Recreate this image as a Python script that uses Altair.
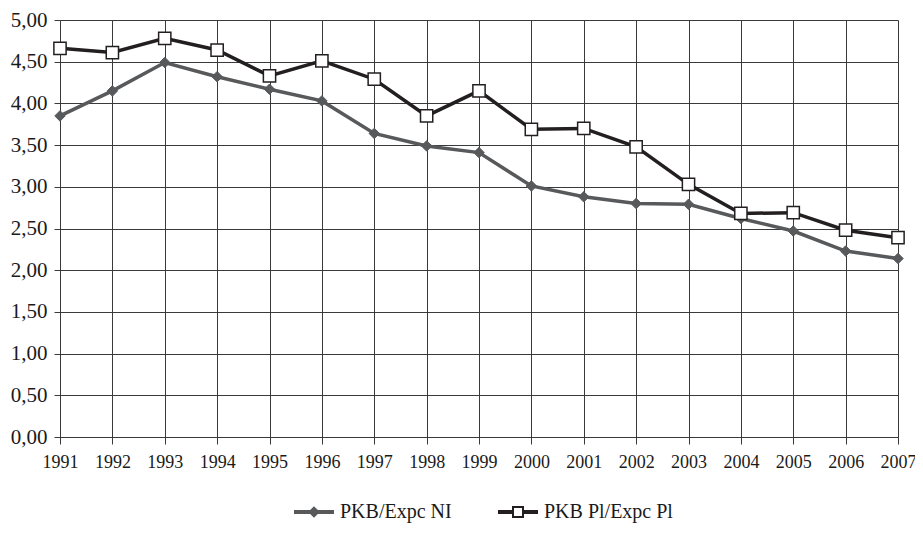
import altair as alt
import pandas as pd

years = list(range(1991, 2008))
ni = [3.85, 4.15, 4.49, 4.32, 4.17, 4.03, 3.64, 3.49, 3.41, 3.01, 2.88, 2.80, 2.79, 2.62, 2.47, 2.23, 2.14]
pl = [4.66, 4.61, 4.78, 4.64, 4.33, 4.51, 4.29, 3.85, 4.15, 3.69, 3.70, 3.48, 3.03, 2.68, 2.69, 2.48, 2.39]
names = ["PKB/Expc NI", "PKB Pl/Expc Pl"]
y_ticks = [0, 0.5, 1.0, 1.5, 2.0, 2.5, 3.0, 3.5, 4.0, 4.5, 5.0]

GRAY = "#58595b"
DARK = "#231f20"
GRID = "#3a3a3a"
FONT = "Liberation Serif"

df = pd.DataFrame(
    {"year": years * 2,
     "value": ni + pl,
     "series": [names[0]] * len(years) + [names[1]] * len(years)}
)

x_enc = alt.X(
    "year:Q",
    scale=alt.Scale(domain=[1991, 2007], nice=False, zero=False),
    axis=alt.Axis(values=years, format="d", title=None, grid=True,
                  gridColor=GRID, gridWidth=1, gridOpacity=1,
                  tickColor=GRID, tickSize=7, tickWidth=1,
                  domainColor=GRID, domainWidth=1,
                  labelFont=FONT, labelFontSize=18, labelColor="#1a1a1a",
                  labelPadding=9, labelFlush=False, labelOverlap=False),
)
y_enc = alt.Y(
    "value:Q",
    scale=alt.Scale(domain=[0, 5], nice=False),
    axis=alt.Axis(values=y_ticks, title=None, grid=True,
                  gridColor=GRID, gridWidth=1, gridOpacity=1,
                  tickColor=GRID, tickSize=6, tickWidth=1,
                  domainColor=GRID, domainWidth=1,
                  labelExpr="replace(format(datum.value, '.2f'), '.', ',')",
                  labelFont=FONT, labelFontSize=21, labelColor="#1a1a1a",
                  labelPadding=7, labelFlush=False),
)

base = alt.Chart(df).encode(x=x_enc, y=y_enc)

line_ni = base.transform_filter(alt.datum.series == names[0]).mark_line(
    color=GRAY, strokeWidth=3.5)
line_pl = base.transform_filter(alt.datum.series == names[1]).mark_line(
    color=DARK, strokeWidth=3.5)
pts_ni = base.transform_filter(alt.datum.series == names[0]).mark_point(
    shape="diamond", filled=True, fill=GRAY, stroke=GRAY, strokeWidth=1,
    size=110, opacity=1)
pts_pl = base.transform_filter(alt.datum.series == names[1]).mark_point(
    shape="square", filled=True, fill="white", stroke=DARK, strokeWidth=1.5,
    size=150, opacity=1)

path_ni = "M-1,-0.05H1M-1,0.05H1M0,-0.22L0.22,0L0,0.22L-0.22,0Z"
path_pl = ("M-1,-0.05H-0.25M-1,0.05H-0.25M0.25,-0.05H1M0.25,0.05H1"
           "M-0.25,-0.25H0.25V0.25H-0.25Z")

legend = alt.Legend(title=None, orient="none", legendX=233, legendY=471,
                    direction="horizontal", symbolSize=1600, symbolStrokeWidth=2,
                    labelFont=FONT, labelFontSize=20, labelColor="#1a1a1a",
                    labelOffset=5, columnPadding=42)

leg_layer = base.transform_filter("false").mark_point(opacity=1, strokeWidth=2, filled=True).encode(
    shape=alt.Shape("series:N", scale=alt.Scale(domain=names, range=[path_ni, path_pl]), legend=legend),
    fill=alt.Fill("series:N", scale=alt.Scale(domain=names, range=[GRAY, "white"]), legend=legend),
    stroke=alt.Stroke("series:N", scale=alt.Scale(domain=names, range=[GRAY, DARK]), legend=legend),
)

chart = alt.layer(line_ni, line_pl, pts_ni, pts_pl, leg_layer).properties(
    width=838, height=417,
    autosize=alt.AutoSizeParams(type="none"),
    padding={"left": 52, "top": 12, "right": 17, "bottom": 89},
    background="white",
).configure_view(stroke=None)

chart.save("out.html", embed_options={"renderer": "svg", "actions": False})
